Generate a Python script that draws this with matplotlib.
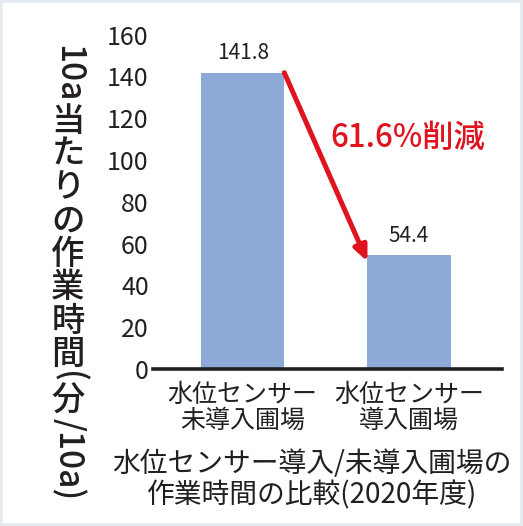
import matplotlib.pyplot as plt
import matplotlib.transforms as mtransforms
from matplotlib.patches import Rectangle

plt.rcParams['font.family'] = ['Noto Sans CJK JP', 'DejaVu Sans']

categories = ['水位センサー\n未導入圃場', '水位センサー\n導入圃場']
values = [141.8, 54.4]
value_labels = ['141.8', '54.4']
yticks = [0, 20, 40, 60, 80, 100, 120, 140, 160]
reduction_label = '61.6%削減'
title = '水位センサー導入/未導入圃場の\n作業時間の比較(2020年度)'
# vertical (tategaki) y label: (text, rotate latin?)
ylabel_parts = [('10a', True), ('当', False), ('た', False), ('り', False), ('の', False),
                ('作', False), ('業', False), ('時', False), ('間', False), ('(', True),
                ('分', False), ('/10a)', True)]

bar_color = '#8dabd7'
red = '#e0141e'
ink = '#231f20'

fig = plt.figure(figsize=(5.23, 5.26), dpi=100)
ax = fig.add_axes([0.2925, 0.2985, 0.6675, 0.6357])

x = range(len(values))
ax.bar(x, values, width=0.5, color=bar_color, zorder=2)
ax.set_xlim(-0.54, 1.56)
ax.set_ylim(0, 160)
ax.set_yticks(yticks)
ax.set_yticklabels([str(t) for t in yticks], fontsize=18, color=ink)
ax.set_xticks(list(x))
ax.set_xticklabels(categories, fontsize=18, color=ink, linespacing=1.0)
ax.tick_params(axis='both', length=0, pad=3)
ax.tick_params(axis='x', pad=9)
for s in ['left', 'right', 'top']:
    ax.spines[s].set_visible(False)
ax.spines['bottom'].set_linewidth(2.6)
ax.spines['bottom'].set_color(ink)
ax.spines['bottom'].set_zorder(3)

for xi, v, lab in zip(x, values, value_labels):
    ax.annotate(lab, (xi, v), xytext=(0, 6), textcoords='offset points',
                ha='center', va='bottom', fontsize=15, color=ink)

# arrow from top-right corner of bar 1 to top-left corner of bar 2
ax.annotate('', xy=(x[1] - 0.25, values[1] - 3), xytext=(x[0] + 0.25, values[0]),
            arrowprops=dict(arrowstyle='-|>,head_length=0.9,head_width=0.4',
                            color=red, lw=3.6, shrinkA=0, shrinkB=0), zorder=4)
ax.text(0.99, 110.5, reduction_label, color=red, fontsize=22.5, fontweight='medium',
        ha='center', va='center')

fig.text(0.597, 0.088, title, ha='center', va='center', fontsize=20,
         color=ink, linespacing=1.05)

# stacked vertical y label
renderer = fig.canvas.get_renderer()
ident = mtransforms.IdentityTransform()
fs = 24
em = fs * fig.dpi / 72
xp = 68
yp = 526 - 45
for s, rot in ylabel_parts:
    if rot:
        t = fig.text(xp, yp, s, rotation=-90, ha='center', va='top', fontsize=fs,
                     fontweight='medium', color=ink, transform=ident)
        yp -= t.get_window_extent(renderer).height + 2
    else:
        fig.text(xp, yp - em / 2, s, ha='center', va='center', fontsize=fs,
                 fontweight='medium', color=ink, transform=ident)
        yp -= em

fig.patches.append(Rectangle((0, 0), 1, 1, transform=fig.transFigure, fill=False,
                             edgecolor='#e4eaee', lw=4))

fig.savefig('out.png', dpi=100)
